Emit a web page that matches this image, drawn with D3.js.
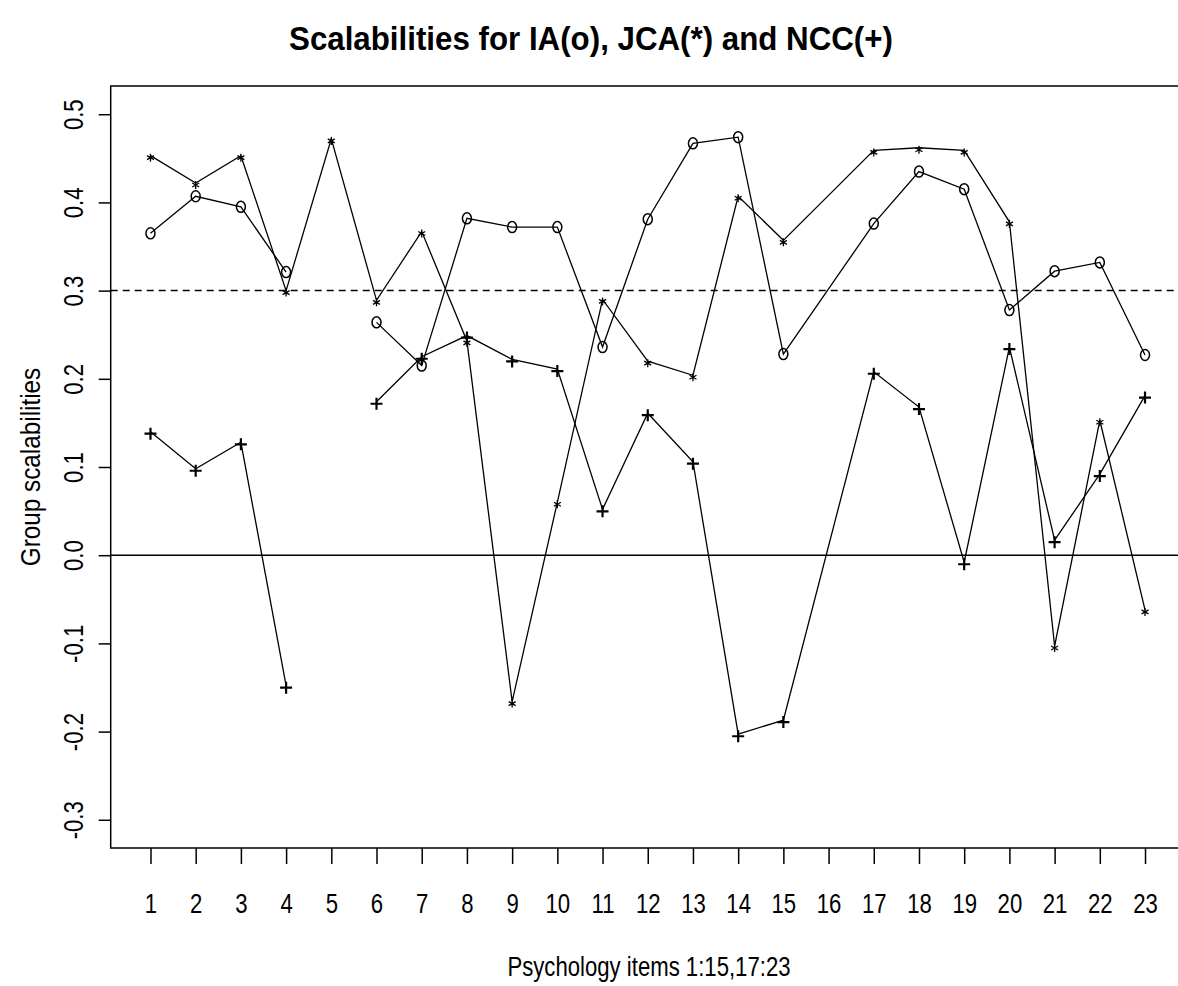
<!DOCTYPE html>
<html>
<head>
<meta charset="utf-8">
<script src="https://cdn.jsdelivr.net/npm/d3@7"></script>
<style>
body { margin: 0; background: #fff; }
svg text { font-family: "Liberation Sans", Arial, sans-serif; fill: #000; }
</style>
</head>
<body>
<div id="chart"></div>
<script>
// item positions on the axis (16 is not used)
var items = [1,2,3,4,5,6,7,8,9,10,11,12,13,14,15,17,18,19,20,21,22,23]
var tickLabels = d3.range(1, 24)
var yTicks = [-0.3,-0.2,-0.1,0.0,0.1,0.2,0.3,0.4,0.5]

// IA (o)
var ia = [0.365,0.407,0.395,0.321,null,0.264,0.215,0.382,0.372,0.372,0.236,0.381,0.467,0.474,0.228,
          0.376,0.435,0.415,0.278,0.322,0.332,0.227]
// JCA (*)
var jca = [0.453,0.422,0.453,0.300,0.472,0.289,0.367,0.243,-0.166,0.060,0.290,0.220,0.204,0.407,0.357,
           0.459,0.462,0.459,0.378,-0.103,0.153,-0.062]
// NCC (+)
var ncc = [0.140,0.098,0.128,-0.148,null,0.174,0.225,0.249,0.222,0.211,0.052,0.161,0.106,-0.203,-0.187,
           0.208,0.168,-0.008,0.236,0.017,0.092,0.181]

var width = 1178, height = 986
var pLeft = 110.7, pRight = 1184.8, pTop = 86, pBottom = 848
var narrow = 0.82   // the original uses a condensed face

var svg = d3.select("#chart").append("svg").attr("width",width).attr("height",height)

// squeeze text to look like a narrow font
function squeeze(sel, k){
    sel.each(function(){
        var w = this.getComputedTextLength()
        d3.select(this).attr("textLength", w*k).attr("lengthAdjust","spacingAndGlyphs")
    })
}
// plain hyphen for negatives, like R
function fmt(d){ return d3.format(".1f")(d).replace("\u2212","-") }

var x = d3.scaleLinear().domain([0.12, 23.88]).range([pLeft, pRight])
var y = d3.scaleLinear().domain([-0.332, 0.532]).range([pBottom, pTop])

// box
svg.append("rect")
    .attr("x",pLeft).attr("y",pTop)
    .attr("width",pRight-pLeft).attr("height",pBottom-pTop)
    .attr("fill","none").attr("stroke","#000").attr("stroke-width",1.5)

// axes
var xAxis = svg.append("g").attr("transform","translate(0,"+pBottom+")")
    .call(d3.axisBottom(x).tickValues(tickLabels).tickSize(16).tickPadding(30).tickFormat(d3.format("d")))
xAxis.select(".domain").remove()
xAxis.selectAll("line").attr("stroke-width",1.5)
xAxis.selectAll("text").attr("font-size",27).attr("fill","#000").call(squeeze, narrow)

var yAxis = svg.append("g").attr("transform","translate("+pLeft+",0)")
    .call(d3.axisLeft(y).tickValues(yTicks).tickSize(12).tickFormat(fmt))
yAxis.select(".domain").remove()
yAxis.selectAll("line").attr("stroke-width",1.5)
yAxis.selectAll("text").remove()
yAxis.selectAll(".tick").append("text")
    .attr("transform","translate(-37,0) rotate(-90)")
    .attr("text-anchor","middle")
    .attr("dy","0.36em")
    .attr("font-size",27)
    .attr("fill","#000")
    .text(fmt)
    .call(squeeze, narrow)

// reference lines
svg.append("line").attr("x1",pLeft).attr("x2",pRight).attr("y1",y(0)).attr("y2",y(0))
    .attr("stroke","#000").attr("stroke-width",1.5)
svg.append("line").attr("x1",pLeft).attr("x2",pRight).attr("y1",y(0.3)).attr("y2",y(0.3))
    .attr("stroke","#000").attr("stroke-width",1.5).attr("stroke-dasharray","7,5")

function series(vals){
    return items.map(function(it,i){ return {x:it, v:vals[i]} })
}
var line = d3.line()
    .defined(function(d){ return d.v !== null })
    .x(function(d){ return x(d.x) })
    .y(function(d){ return y(d.v) })

var plot = svg.append("g")
;[ia, jca, ncc].forEach(function(vals){
    plot.append("path").datum(series(vals))
        .attr("d",line).attr("fill","none").attr("stroke","#000").attr("stroke-width",1.3)
})

// circles
plot.selectAll(".ia").data(series(ia).filter(function(d){return d.v!==null}))
    .enter().append("ellipse")
    .attr("cx",function(d){return x(d.x)}).attr("cy",function(d){return y(d.v)})
    .attr("rx",4.5).attr("ry",5.5)
    .attr("fill","none").attr("stroke","#000").attr("stroke-width",1.5)

// stars
var starPath = "M0,-4V4M-3.5,-2L3.5,2M-3.5,2L3.5,-2"
plot.selectAll(".jca").data(series(jca))
    .enter().append("path")
    .attr("d",starPath)
    .attr("transform",function(d){return "translate("+x(d.x)+","+(y(d.v)+2)+")"})
    .attr("stroke","#000").attr("stroke-width",1.3)

// plus signs
plot.selectAll(".ncc").data(series(ncc).filter(function(d){return d.v!==null}))
    .enter().append("path")
    .attr("d","M-6,0H6M0,-6V6")
    .attr("transform",function(d){return "translate("+x(d.x)+","+(y(d.v)+2)+")"})
    .attr("stroke","#000").attr("stroke-width",2.2)

// titles
svg.append("text").attr("x",591).attr("y",50).attr("text-anchor","middle")
    .attr("font-size",34).attr("font-weight","bold")
    .text("Scalabilities for IA(o), JCA(*) and NCC(+)")
    .call(squeeze, 0.92)
svg.append("text").attr("x",649).attr("y",976).attr("text-anchor","middle")
    .attr("font-size",27)
    .text("Psychology items 1:15,17:23")
    .call(squeeze, narrow)
svg.append("text").attr("transform","translate(40,467) rotate(-90)").attr("text-anchor","middle")
    .attr("font-size",27)
    .text("Group scalabilities")
    .call(squeeze, 0.9)
</script>
</body>
</html>
